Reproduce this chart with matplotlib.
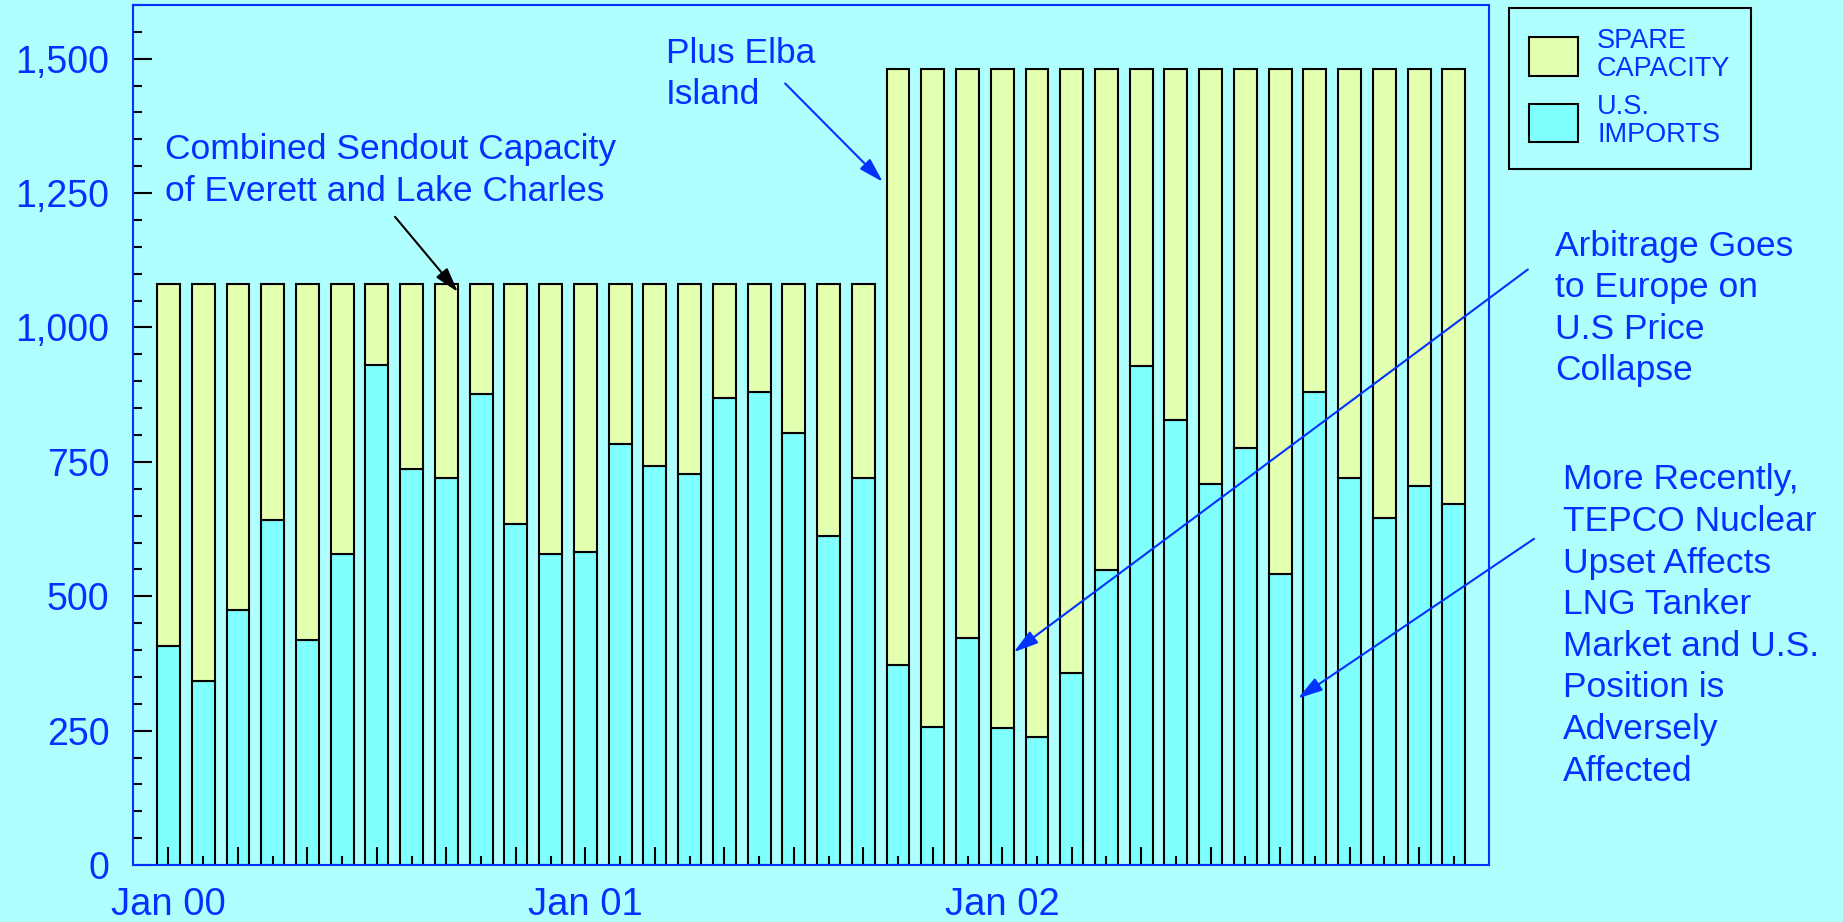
import numpy as np
import matplotlib.pyplot as plt

plt.rcParams['font.family'] = ['Liberation Sans', 'DejaVu Sans']

BG = '#AFFFFF'
IMPORT_COLOR = '#80FFFF'
SPARE_COLOR = '#E3FFB0'
BLUE = '#0033FF'

# monthly sendout capacity and LNG imports, Jan 00 .. Feb 03 (MMcf/d)
capacity = np.array([1080, 1080, 1080, 1080, 1080, 1080, 1080, 1080, 1080, 1080, 1080, 1080,
                     1080, 1080, 1080, 1080, 1080, 1080, 1080, 1080, 1080,
                     1480, 1480, 1480, 1480, 1480, 1480, 1480, 1480, 1480, 1480, 1480, 1480,
                     1480, 1480, 1480, 1480, 1480])
imports = np.array([407, 343, 475, 642, 418, 579, 930, 736, 720, 877, 634, 579,
                    582, 783, 742, 728, 869, 880, 803, 613, 720,
                    373, 257, 422, 254, 239, 358, 548, 929, 828, 708, 775, 541,
                    880, 720, 645, 705, 672])
year_labels = {0: 'Jan 00', 12: 'Jan 01', 24: 'Jan 02'}

spare = capacity - imports
x = np.arange(len(imports))

fig = plt.figure(figsize=(18.43, 9.22), dpi=100, facecolor=BG)
ax = fig.add_axes([0.0722, 0.0618, 0.7357, 0.9328])
ax.set_facecolor(BG)

b_imp = ax.bar(x, imports, width=0.66, color=IMPORT_COLOR, edgecolor='black', linewidth=1.5)
b_spare = ax.bar(x, spare, bottom=imports, width=0.66, color=SPARE_COLOR,
                 edgecolor='black', linewidth=1.5)

ax.set_xlim(-1.02, 38.01)
ax.set_ylim(0, 1600)

for s in ax.spines.values():
    s.set_color(BLUE)
    s.set_linewidth(1.5)

# x ticks: one per month, alternating long / short
major_x = x[::2]
ax.set_xticks(major_x)
ax.set_xticklabels([year_labels.get(i, '') for i in major_x])
ax.set_xticks(x[1::2], minor=True)
ax.tick_params(axis='x', which='major', direction='in', length=13, width=1.5,
               color='black', pad=16, labelsize=27.5, labelcolor=BLUE)
ax.tick_params(axis='x', which='minor', direction='in', length=6.5, width=1.5, color='black')

yt = np.arange(0, 1501, 250)
ax.set_yticks(yt)
ax.set_yticklabels(['{:,}'.format(v) for v in yt])
ax.set_yticks(np.arange(0, 1601, 50), minor=True)
ax.tick_params(axis='y', which='major', direction='in', length=13.7, width=1.5,
               color='black', pad=17, labelsize=27, labelcolor=BLUE)
ax.tick_params(axis='y', which='minor', direction='in', length=6.5, width=1.5, color='black')

leg = ax.legend(handles=[b_spare, b_imp], labels=['SPARE\nCAPACITY', 'U.S.\nIMPORTS'],
                loc='upper left', bbox_to_anchor=(1509 / 1843, 1 - 8 / 922),
                bbox_transform=fig.transFigure, fancybox=False, edgecolor='black',
                facecolor=BG, framealpha=1, fontsize=19.5, handlelength=1.8,
                handleheight=1.8, handletextpad=0.7, borderpad=0.75, labelspacing=0.45,
                borderaxespad=0)
leg.get_frame().set_linewidth(1.5)
for t in leg.get_texts():
    t.set_color(BLUE)
    t.set_linespacing(1.1)

note_kw = dict(fontsize=25.5, color=BLUE, va='top', ha='left', linespacing=1.33)
ax.text(-0.10, 1361, 'Combined Sendout Capacity\nof Everett and Lake Charles', **note_kw)
ax.text(14.32, 1541, 'Plus Elba\nIsland', **note_kw)
ax.text(39.91, 1182, 'Arbitrage Goes\nto Europe on\nU.S Price\nCollapse', **note_kw)
ax.text(40.14, 747, 'More Recently,\nTEPCO Nuclear\nUpset Affects\nLNG Tanker\n'
        'Market and U.S.\nPosition is\nAdversely\nAffected', **note_kw)

arrow = '-|>,head_length=0.75,head_width=0.22'
ax.annotate('', xy=(8.33, 1066), xytext=(6.52, 1206),
            arrowprops=dict(arrowstyle=arrow, color='black', lw=1.5,
                            shrinkA=0, shrinkB=0, mutation_scale=20))
for tip, tail in [((20.56, 1271), (17.75, 1454)),
                  ((24.33, 396), (39.13, 1108)),
                  ((32.51, 310), (39.31, 607))]:
    ax.annotate('', xy=tip, xytext=tail,
                arrowprops=dict(arrowstyle=arrow, color=BLUE, lw=1.5,
                                shrinkA=0, shrinkB=0, mutation_scale=20))

fig.savefig('out.png', dpi=100, facecolor=BG)
